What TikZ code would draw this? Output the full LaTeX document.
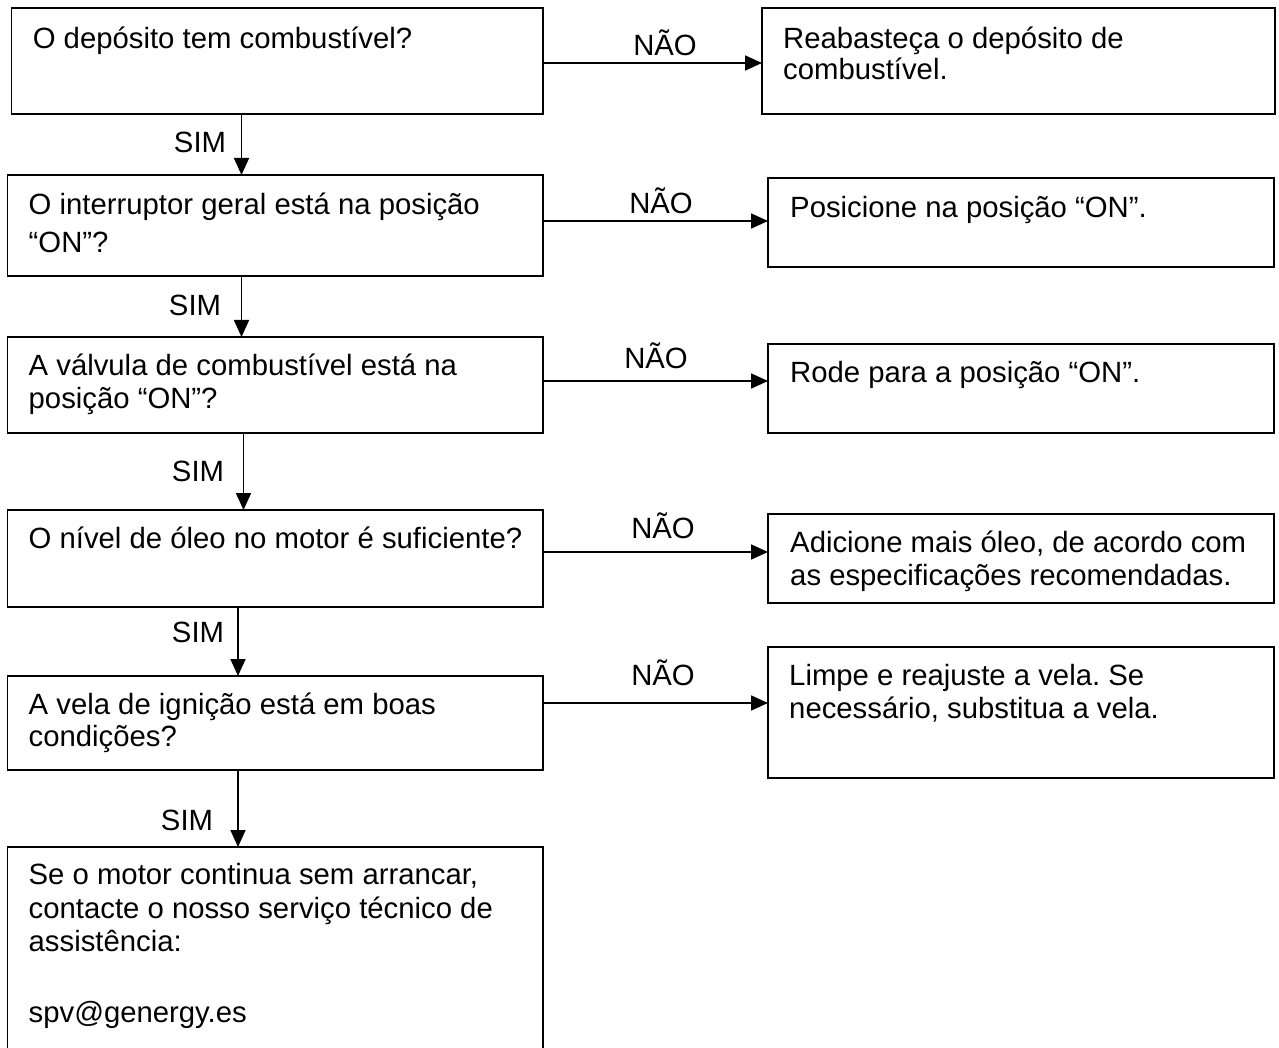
\documentclass[tikz,border=0pt]{standalone}
\usepackage{fontspec}
\setmainfont{Liberation Sans}
\usetikzlibrary{arrows.meta}
\frenchspacing
\newcommand\fs{\fontsize{29.3}{33}\selectfont}
\newcommand\ft{\rule{0pt}{24pt}}
\tikzset{
  box/.style={draw, line width=1.8pt, anchor=north west, inner sep=0pt, outer sep=0pt},
  txt/.style={anchor=north west, inner sep=0pt, align=left, font=\fs},
  lab/.style={anchor=base, inner sep=0pt, font=\fs},
  arr/.style={line width=1.8pt, -{Triangle[length=17pt,width=15pt]}},
}
\begin{document}
\begin{tikzpicture}[x=1pt,y=-1pt]
\useasboundingbox (0,0) rectangle (1279,1048);
\clip (0,0) rectangle (1279,1048);
\fill[white] (0,0) rectangle (1279,1048);
% left boxes
\node[box, minimum width=531.5pt, minimum height=106pt] (L1) at (11.5,8) {};
\node[box, minimum width=535.5pt, minimum height=101pt] (L2) at (7.5,175) {};
\node[box, minimum width=535.5pt, minimum height=96pt]  (L3) at (7.5,337) {};
\node[box, minimum width=535.5pt, minimum height=97pt]  (L4) at (7.5,510) {};
\node[box, minimum width=535.5pt, minimum height=94pt]  (L5) at (7.5,676) {};
\node[box, minimum width=535.5pt, minimum height=220pt] (L6) at (7.5,847) {};
% right boxes
\node[box, minimum width=513pt, minimum height=106pt] (R1) at (762,8) {};
\node[box, minimum width=506pt, minimum height=89pt]  (R2) at (768,178) {};
\node[box, minimum width=506pt, minimum height=89pt]  (R3) at (768,344) {};
\node[box, minimum width=506pt, minimum height=89pt]  (R4) at (768,514) {};
\node[box, minimum width=506pt, minimum height=131pt] (R5) at (768,647) {};
% texts
\node[txt] (L1t) at (32.6,24) {\ft O depósito tem combustível?};
\node[txt] (L2t) at (28.5,190) {\ft O interruptor geral está na posição\\[5pt]“ON”?};
\node[txt] (L3t) at (28.5,351) {\ft A válvula de combustível está na\\posição “ON”?};
\node[txt] (L4t) at (28.5,524) {\ft O nível de óleo no motor é suficiente?};
\node[txt] (L5t) at (28.5,690) {\ft A vela de ignição está em boas\\[-1pt]condições?};
\node[txt] (L6t) at (28.5,860) {\ft Se o motor continua sem arrancar,\\[1pt]contacte o nosso serviço técnico de\\assistência:\\[38pt]spv@genergy.es};
\node[txt] (R1t) at (783,24) {\ft Reabasteça o depósito de\\[-2pt]combustível.};
\node[txt] (R2t) at (790,193) {\ft Posicione na posição “ON”.};
\node[txt] (R3t) at (790,358) {\ft Rode para a posição “ON”.};
\node[txt] (R4t) at (790,528) {\ft Adicione mais óleo, de acordo com\\as especificações recomendadas.};
\node[txt] (R5t) at (789,661) {\ft Limpe e reajuste a vela. Se\\necessário, substitua a vela.};
% NAO arrows
\draw[arr] ([yshift=-55pt]L1.north east) -- ([yshift=-55pt]R1.north west);
\draw[arr] ([yshift=-46pt]L2.north east) -- ([yshift=-43pt]R2.north west);
\draw[arr] ([yshift=-44pt]L3.north east) -- ([yshift=-37pt]R3.north west);
\draw[arr] ([yshift=-42pt]L4.north east) -- ([yshift=-38pt]R4.north west);
\draw[arr] ([yshift=-27pt]L5.north east) -- ([yshift=-56pt]R5.north west);
\node[lab] (n1) at (665,56) {NÃO};
\node[lab] (n2) at (661,214) {NÃO};
\node[lab] (n3) at (656,368) {NÃO};
\node[lab] (n4) at (663,538) {NÃO};
\node[lab] (n5) at (663,685) {NÃO};
% SIM arrows
\draw[arr] ([xshift=230pt]L1.south west) -- ([xshift=234pt]L2.north west);
\draw[arr] ([xshift=234pt]L2.south west) -- ([xshift=234pt]L3.north west);
\draw[arr] ([xshift=236pt]L3.south west) -- ([xshift=236pt]L4.north west);
\draw[arr] ([xshift=230.5pt]L4.south west) -- ([xshift=230.5pt]L5.north west);
\draw[arr] ([xshift=230.5pt]L5.south west) -- ([xshift=230.5pt]L6.north west);
\node[lab] (s1) at (200,153) {SIM};
\node[lab] (s2) at (195,316) {SIM};
\node[lab] (s3) at (198,481) {SIM};
\node[lab] (s4) at (198,642) {SIM};
\node[lab] (s5) at (187,830) {SIM};
\end{tikzpicture}
\end{document}
